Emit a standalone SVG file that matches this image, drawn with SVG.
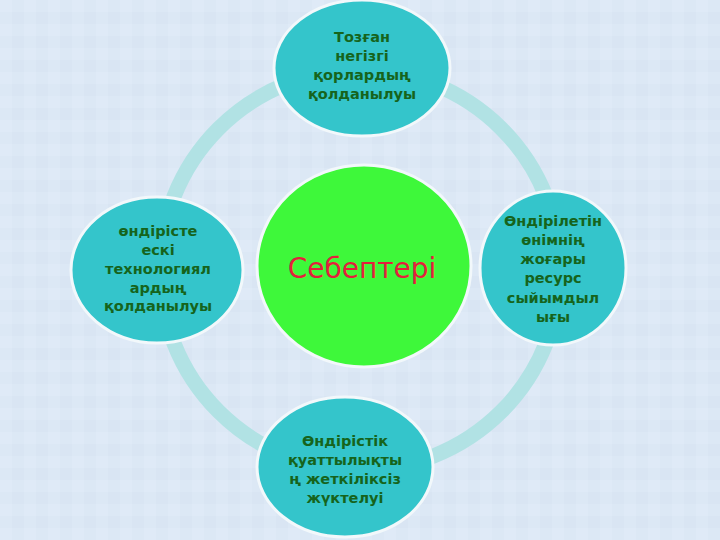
<svg xmlns="http://www.w3.org/2000/svg" width="720" height="540" viewBox="0 0 720 540">
<defs>
<pattern id="tex" width="24" height="24" patternUnits="userSpaceOnUse">
<rect width="24" height="24" fill="#dce8f5"/>
<rect x="0" y="0" width="12" height="12" fill="#dfeaf7"/>
<rect x="12" y="12" width="12" height="12" fill="#d9e5f3"/>
</pattern>
</defs>
<style>
.node{fill:#34c5cb;stroke:#f2f8fb;stroke-width:3}
.t{font-family:"DejaVu Sans",Verdana,sans-serif;font-weight:bold;font-size:14.5px;fill:#16641c;text-anchor:middle}
.c{font-family:"DejaVu Sans",Verdana,sans-serif;font-size:28px;fill:#e3203c;text-anchor:middle}
</style>
<rect width="720" height="540" fill="url(#tex)"/>
<g id="connectors">
<circle cx="360" cy="270" r="200" fill="none" stroke="#b1e2e4" stroke-width="15"/>
</g>
<g id="center">
<ellipse cx="364" cy="266" rx="107" ry="101" fill="#3ef83a" stroke="#f2f8fb" stroke-width="3"/>
<text class="c" x="362" y="278">Себептері</text>
</g>
<g id="top">
<ellipse class="node" cx="362" cy="68" rx="88" ry="68"/>
<text class="t" x="362" y="42">Тозған</text>
<text class="t" x="362" y="61">негізгі</text>
<text class="t" x="362" y="80">қорлардың</text>
<text class="t" x="362" y="99">қолданылуы</text>
</g>
<g id="left">
<ellipse class="node" cx="157" cy="270" rx="86" ry="73"/>
<text class="t" x="158" y="236">өндірісте</text>
<text class="t" x="158" y="255">ескі</text>
<text class="t" x="158" y="274">технологиял</text>
<text class="t" x="158" y="293">ардың</text>
<text class="t" x="158" y="311">қолданылуы</text>
</g>
<g id="right">
<ellipse class="node" cx="553" cy="268" rx="73" ry="77"/>
<text class="t" x="553" y="226">Өндірілетін</text>
<text class="t" x="553" y="245">өнімнің</text>
<text class="t" x="553" y="264">жоғары</text>
<text class="t" x="553" y="283">ресурс</text>
<text class="t" x="553" y="303">сыйымдыл</text>
<text class="t" x="553" y="322">ығы</text>
</g>
<g id="bottom">
<ellipse class="node" cx="345" cy="467" rx="88" ry="70"/>
<text class="t" x="345" y="446">Өндірістік</text>
<text class="t" x="345" y="465">қуаттылықты</text>
<text class="t" x="345" y="484">ң жеткіліксіз</text>
<text class="t" x="345" y="503">жүктелуі</text>
</g>
</svg>
